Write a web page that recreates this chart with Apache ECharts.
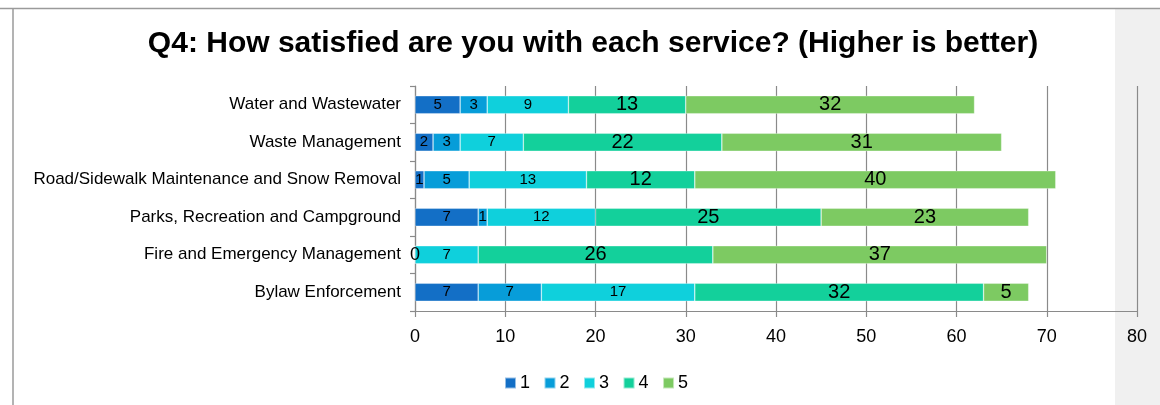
<!DOCTYPE html>
<html>
<head>
<meta charset="utf-8">
<script src="https://cdn.jsdelivr.net/npm/echarts@6/dist/echarts.min.js"></script>
<style>
  html, body { margin: 0; padding: 0; background: #fff; }
  #chart { width: 1160px; height: 405px; }
</style>
</head>
<body>
<div id="chart"></div>
<script>
// Survey responses per service, rating 1 (worst) to 5 (best)
const categories = [
  'Water and Wastewater',
  'Waste Management',
  'Road/Sidewalk Maintenance and Snow Removal',
  'Parks, Recreation and Campground',
  'Fire and Emergency Management',
  'Bylaw Enforcement'
];
const seriesNames = ['1', '2', '3', '4', '5'];
const rating1 = [5, 2, 1, 7, 0, 7];
const rating2 = [3, 3, 5, 1, 0, 7];
const rating3 = [9, 7, 13, 12, 7, 17];
const rating4 = [13, 22, 12, 25, 26, 32];
const rating5 = [32, 31, 40, 23, 37, 5];
const xTicks = [0, 10, 20, 30, 40, 50, 60, 70, 80];

const colors = ['#136fc6', '#079dd9', '#0fd0dc', '#13d09b', '#7dca62'];
const labelSizes = [15, 15, 15, 20, 20];
const values = [rating1, rating2, rating3, rating4, rating5];

const font = 'Liberation Sans, Arial, sans-serif';
const gridColor = '#8a8a8a';

const chart = echarts.init(document.getElementById('chart'));

const series = values.map((data, i) => ({
  name: seriesNames[i],
  type: 'bar',
  stack: 'total',
  barWidth: 18,
  data: data,
  itemStyle: {
    color: colors[i],
    borderColor: 'rgba(255,255,255,0.55)',
    borderWidth: 0.6
  },
  label: {
    show: true,
    position: 'inside',
    color: '#000',
    fontFamily: font,
    fontSize: labelSizes[i],
    // a zero count is stated once, by the first rating only
    formatter: p => {
      if (p.value === 0) return i === 0 ? '{z|0}' : '';
      return String(p.value);
    },
    rich: { z: { fontFamily: font, fontSize: 18, color: '#000' } }
  },
  emphasis: { disabled: true }
}));

chart.setOption({
  animation: false,
  textStyle: { fontFamily: font },
  title: {
    text: 'Q4: How satisfied are you with each service? (Higher is better)',
    left: 593,
    textAlign: 'center',
    top: 29,
    padding: 0,
    textStyle: { fontFamily: font, fontSize: 30, fontWeight: 'bold', color: '#000' }
  },
  graphic: [
    { type: 'rect', z: -10, silent: true,
      shape: { x: 1115, y: 9, width: 45, height: 396 },
      style: { fill: '#f0f0f0' } },
    { type: 'line', z: -5, silent: true,
      shape: { x1: 0, y1: 8.5, x2: 1160, y2: 8.5 },
      style: { stroke: '#9a9a9a', lineWidth: 1.5 } },
    { type: 'line', z: -5, silent: true,
      shape: { x1: 13, y1: 8, x2: 13, y2: 405 },
      style: { stroke: '#9a9a9a', lineWidth: 1.5 } }
  ],
  legend: {
    data: seriesNames,
    left: 504,
    top: 374,
    padding: 0,
    icon: 'rect',
    itemWidth: 11,
    itemHeight: 11,
    itemGap: 13.5,
    textStyle: { fontFamily: font, fontSize: 18, color: '#000', padding: [0, 0, 0, -1] }
  },
  grid: { left: 415, right: 23, top: 86, bottom: 94, containLabel: false },
  xAxis: {
    type: 'value',
    min: xTicks[0],
    max: xTicks[xTicks.length - 1],
    interval: 10,
    axisLine: { show: true, lineStyle: { color: gridColor, width: 1.2 } },
    axisTick: { show: true, length: 6, lineStyle: { color: gridColor, width: 1.2 } },
    splitLine: { show: true, lineStyle: { color: gridColor, width: 1.2 } },
    axisLabel: { fontFamily: font, fontSize: 18, color: '#000', margin: 17 }
  },
  yAxis: {
    type: 'category',
    data: categories,
    inverse: true,
    axisLine: { show: true, lineStyle: { color: gridColor, width: 1.2 } },
    axisTick: { show: true, length: 5, lineStyle: { color: gridColor, width: 1.2 } },
    axisLabel: { fontFamily: font, fontSize: 17, color: '#000', margin: 14 }
  },
  series: series
});
</script>
</body>
</html>
